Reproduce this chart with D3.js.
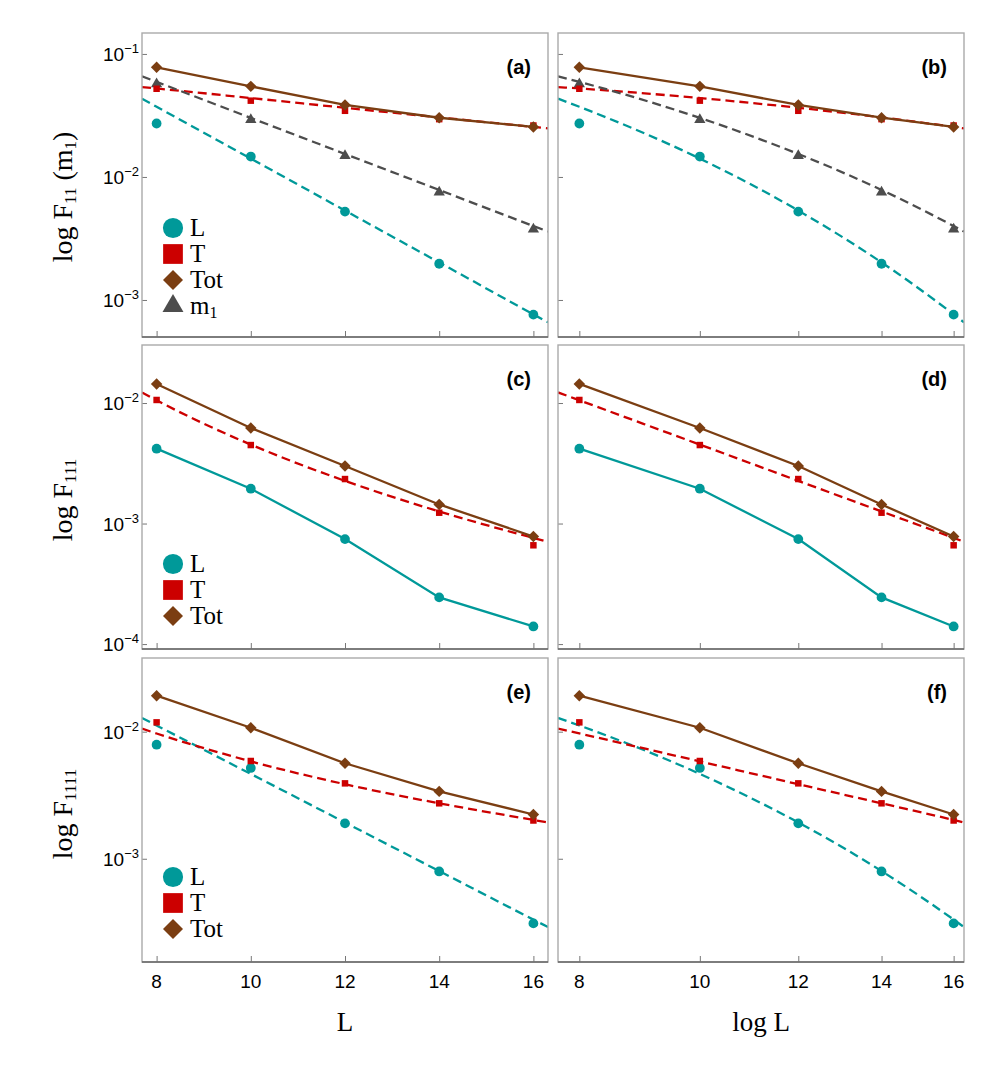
<!DOCTYPE html>
<html>
<head>
<meta charset="utf-8">
<script src="https://cdn.jsdelivr.net/npm/d3@7"></script>
<style>
  body { margin: 0; background: #fff; }
  .serif { font-family: "Liberation Serif", "Times New Roman", serif; }
  .sans { font-family: "Liberation Sans", Arial, sans-serif; }
</style>
</head>
<body>
<div id="vis"></div>
<script>
// x positions (system size L)
var xTicks = [8, 10, 12, 14, 16];
var xFit = [7.69, 8, 10, 12, 14, 16, 16.31];

// F11 (m1) panel (a)/(b)
var f11_L   = [0.0272, 0.01466, 0.00523, 0.00197, 0.00076];
var f11_T   = [0.0521, 0.0417, 0.0345, 0.0295, 0.0262];
var f11_Tot = [0.0778, 0.0545, 0.0385, 0.0303, 0.0255];
var f11_m1  = [0.0569, 0.0292, 0.0149, 0.00751, 0.00376];
var f11_L_fit  = [0.0433, 0.0372, 0.0141, 0.00533, 0.00202, 0.000764, 0.000658];
var f11_T_fit  = [0.0538, 0.0524, 0.0438, 0.0365, 0.0305, 0.0255, 0.0248];
var f11_m1_fit = [0.0658, 0.0593, 0.0302, 0.01538, 0.00784, 0.00399, 0.0036];

// F111 panel (c)/(d)
var f111_L   = [0.00418, 0.001945, 0.000743, 0.000244, 0.00014];
var f111_T   = [0.0106, 0.00448, 0.00234, 0.00123, 0.00066];
var f111_Tot = [0.0144, 0.0062, 0.0030, 0.00144, 0.00078];
var f111_T_fit = [0.01225, 0.01054, 0.00452, 0.00226, 0.00126, 0.00076, 0.000706];

// F1111 panel (e)/(f)
var f1111_L   = [0.0079, 0.00518, 0.0019, 0.000794, 0.00031];
var f1111_T   = [0.01184, 0.00588, 0.00392, 0.00273, 0.0020];
var f1111_Tot = [0.0192, 0.01074, 0.00564, 0.00339, 0.00223];
var f1111_L_fit = [0.01282, 0.01119, 0.00465, 0.00193, 0.0008, 0.000332, 0.00029];
var f1111_T_fit = [0.01057, 0.00968, 0.00584, 0.00386, 0.00273, 0.00202, 0.00193];

var panelLetters = [["(a)", "(b)"], ["(c)", "(d)"], ["(e)", "(f)"]];

var color = { L: "#009999", T: "#cc0000", Tot: "#7b3e12", m1: "#4d4d4d" };
var shape = { L: "circle", T: "square", Tot: "diamond", m1: "triangle" };

var rows = [
  { y0: 33, y1: 337, domain: [5.0e-4, 0.148], yTicks: [1e-1, 1e-2, 1e-3],
    points: { L: f11_L, T: f11_T, Tot: f11_Tot, m1: f11_m1 },
    solid: ["Tot"], fits: { L: f11_L_fit, T: f11_T_fit, m1: f11_m1_fit },
    legend: ["L", "T", "Tot", "m1"], legendY: 228, titleShift: 12,
    title: [["log F", 0], ["11", 1], [" (m", 0], ["1", 1], [")", 0]] },
  { y0: 345, y1: 649, domain: [9.1e-5, 0.0303], yTicks: [1e-2, 1e-3, 1e-4],
    points: { L: f111_L, T: f111_T, Tot: f111_Tot },
    solid: ["L", "Tot"], fits: { T: f111_T_fit },
    legend: ["L", "T", "Tot"], legendY: 564, titleShift: 3,
    title: [["log F", 0], ["111", 1]] },
  { y0: 658, y1: 962, domain: [1.54e-4, 0.038], yTicks: [1e-2, 1e-3],
    points: { L: f1111_L, T: f1111_T, Tot: f1111_Tot },
    solid: ["Tot"], fits: { L: f1111_L_fit, T: f1111_T_fit },
    legend: ["L", "T", "Tot"], legendY: 877, titleShift: 4,
    title: [["log F", 0], ["1111", 1]] }
];

var cols = [
  { x0: 142, x1: 548, log: false, xtitle: "L" },
  { x0: 558, x1: 964, log: true, xtitle: "log L" }
];

var svg = d3.select("#vis").append("svg")
  .attr("width", 987)
  .attr("height", 1068);

function symbolPath(kind, big) {
  var s;
  if (kind == "circle") s = d3.symbol().type(d3.symbolCircle).size(big ? 320 : 75);
  else if (kind == "square") s = d3.symbol().type(d3.symbolSquare).size(big ? 390 : 42);
  else if (kind == "diamond") s = d3.symbol().type(d3.symbolSquare).size(big ? 200 : 66);
  else s = d3.symbol().type(d3.symbolTriangle).size(big ? 190 : 55);
  return s();
}

function marker(g, kind, x, y, big) {
  var rot = kind == "diamond" ? " rotate(45)" : "";
  g.append("path")
    .attr("d", symbolPath(kind, big))
    .attr("transform", "translate(" + x + "," + y + ")" + rot)
    .attr("fill", color[kind == "circle" ? "L" : kind == "square" ? "T" : kind == "diamond" ? "Tot" : "m1"]);
}

rows.forEach(function(row, ri) {
  cols.forEach(function(col, ci) {
    var x = (col.log ? d3.scaleLog() : d3.scaleLinear())
      .domain([7.69, 16.31])
      .range([col.x0, col.x1]);
    var y = d3.scaleLog()
      .domain(row.domain)
      .range([row.y1, row.y0]);

    var clipId = "clip" + ri + ci;
    svg.append("clipPath").attr("id", clipId)
      .append("rect")
      .attr("x", col.x0).attr("y", row.y0)
      .attr("width", col.x1 - col.x0).attr("height", row.y1 - row.y0);

    var g = svg.append("g");

    // x ticks (inside)
    var xa = g.append("g")
      .attr("transform", "translate(0," + row.y1 + ")")
      .call(d3.axisBottom(x).tickValues(xTicks).tickSizeInner(-6).tickSizeOuter(0).tickFormat(""));
    xa.select(".domain").remove();
    xa.selectAll("line").attr("stroke", "#777");

    if (ri == 2) {
      xTicks.forEach(function(t) {
        g.append("text")
          .attr("class", "sans")
          .attr("x", x(t))
          .attr("y", 988)
          .attr("text-anchor", "middle")
          .style("font-size", "19px")
          .text(t);
      });
    }

    // y ticks (inside)
    var ya = g.append("g")
      .attr("transform", "translate(" + col.x0 + ",0)")
      .call(d3.axisLeft(y).tickValues(row.yTicks).tickSizeInner(-5).tickSizeOuter(0).tickFormat(""));
    ya.select(".domain").remove();
    ya.selectAll("line").attr("stroke", "#777");

    if (ci == 0) {
      row.yTicks.forEach(function(t) {
        var e = Math.round(Math.log10(t));
        var tx = g.append("text")
          .attr("class", "sans")
          .attr("x", col.x0 - 3)
          .attr("y", y(t) + 7)
          .attr("text-anchor", "end")
          .style("font-size", "19px");
        tx.append("tspan").text("10");
        tx.append("tspan").text("\u2212" + (-e)).attr("dy", -8).style("font-size", "13px");
      });
    }

    var plot = g.append("g").attr("clip-path", "url(#" + clipId + ")");

    // fitted dashed lines
    var fitLine = d3.line()
      .x(function(d) { return x(d[0]); })
      .y(function(d) { return y(d[1]); })
      .curve(d3.curveMonotoneX);
    Object.keys(row.fits).forEach(function(k) {
      plot.append("path")
        .datum(xFit.map(function(v, i) { return [v, row.fits[k][i]]; }))
        .attr("d", fitLine)
        .attr("fill", "none")
        .attr("stroke", color[k])
        .attr("stroke-width", 2.3)
        .attr("stroke-dasharray", "9,5");
    });

    // solid lines joining points
    var ptLine = d3.line()
      .x(function(d) { return x(d[0]); })
      .y(function(d) { return y(d[1]); });
    row.solid.forEach(function(k) {
      plot.append("path")
        .datum(xTicks.map(function(v, i) { return [v, row.points[k][i]]; }))
        .attr("d", ptLine)
        .attr("fill", "none")
        .attr("stroke", color[k])
        .attr("stroke-width", 2.3);
    });

    // markers
    ["L", "m1", "T", "Tot"].forEach(function(k) {
      if (!row.points[k]) return;
      row.points[k].forEach(function(v, i) {
        marker(plot, shape[k], x(xTicks[i]), y(v), false);
      });
    });

    // frame
    g.append("rect")
      .attr("x", col.x0).attr("y", row.y0)
      .attr("width", col.x1 - col.x0).attr("height", row.y1 - row.y0)
      .attr("fill", "none")
      .attr("stroke", "#aaa")
      .attr("stroke-width", 1.4);
    g.append("line")
      .attr("x1", col.x0).attr("x2", col.x1)
      .attr("y1", row.y1).attr("y2", row.y1)
      .attr("stroke", "#666")
      .attr("stroke-width", 1.4);

    // panel letter
    g.append("text")
      .attr("class", "sans")
      .attr("x", col.x1 - 17)
      .attr("y", row.y0 + 41)
      .attr("text-anchor", "end")
      .style("font-weight", "bold")
      .style("font-size", "20px")
      .text(panelLetters[ri][ci]);

    // legend in left panels
    if (ci == 0) {
      row.legend.forEach(function(k, i) {
        var ly = row.legendY + i * 26;
        marker(g, shape[k], 173, ly, true);
        var lt = g.append("text")
          .attr("class", "serif")
          .attr("x", 190)
          .attr("y", ly + 8)
          .style("font-size", "25px");
        if (k == "m1") {
          lt.append("tspan").text("m");
          lt.append("tspan").text("1").attr("dy", 4).style("font-size", "16px");
        } else {
          lt.text(k);
        }
      });

      // y title
      var yt = svg.append("text")
        .attr("class", "serif")
        .attr("transform", "translate(72," + ((row.y0 + row.y1) / 2 + row.titleShift) + ") rotate(-90)")
        .attr("text-anchor", "middle")
        .style("font-size", "28px");
      row.title.forEach(function(p, i) {
        var ts = yt.append("tspan").text(p[0]);
        if (p[1]) ts.attr("dy", 4).style("font-size", "17px");
        else if (i > 0) ts.attr("dy", -4);
      });
    }

    // x title
    if (ri == 2) {
      svg.append("text")
        .attr("class", "serif")
        .attr("x", (col.x0 + col.x1) / 2)
        .attr("y", 1031)
        .attr("text-anchor", "middle")
        .style("font-size", "27px")
        .text(col.xtitle);
    }
  });
});
</script>
</body>
</html>
